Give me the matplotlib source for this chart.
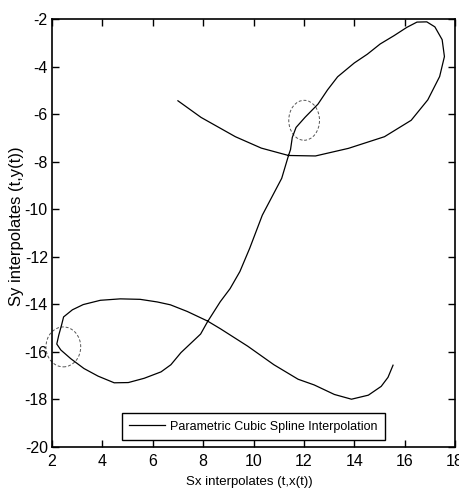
import matplotlib
matplotlib.use("Agg")
import matplotlib.pyplot as plt
from matplotlib.patches import Ellipse

# Traced parametric curve (x(t), y(t))
curve_x = [7.00, 7.92, 9.28, 10.31, 11.39, 12.46, 13.77, 15.20, 16.26, 16.92,
           17.39, 17.58, 17.49, 17.20, 16.88, 16.49, 16.09, 15.58, 15.03, 14.52,
           14.00, 13.34, 12.94, 12.56, 12.05, 11.69, 11.54, 11.47, 11.39, 11.12,
           10.35, 9.85, 9.46, 9.07, 8.68, 8.17, 7.90, 7.12, 6.72, 6.33,
           5.66, 5.03, 4.47, 3.83, 3.27, 2.75, 2.35, 2.19, 2.27, 2.38,
           2.46, 2.81, 3.24, 3.92, 4.71, 5.50, 6.18, 6.70, 7.37, 8.17,
           8.69, 9.77, 10.81, 11.77, 12.41, 13.21, 13.89, 14.56, 15.07, 15.34,
           15.54]
curve_y = [-5.44, -6.14, -6.95, -7.43, -7.74, -7.76, -7.44, -6.95, -6.26, -5.40,
           -4.42, -3.58, -2.87, -2.33, -2.12, -2.13, -2.35, -2.70, -3.05, -3.48,
           -3.85, -4.43, -4.98, -5.58, -6.13, -6.56, -6.98, -7.49, -7.74, -8.70,
           -10.25, -11.64, -12.62, -13.34, -13.89, -14.74, -15.25, -16.03, -16.54, -16.84,
           -17.11, -17.29, -17.30, -17.02, -16.70, -16.29, -15.92, -15.67, -15.29, -14.87,
           -14.53, -14.23, -14.01, -13.83, -13.77, -13.79, -13.90, -14.02, -14.30, -14.70,
           -15.03, -15.76, -16.54, -17.15, -17.39, -17.79, -17.99, -17.82, -17.45, -17.07,
           -16.56]

# Dashed marker circles (centre x, centre y, width, height)
circle_cx = [12.01, 2.45]
circle_cy = [-6.26, -15.79]
circle_w = [1.22, 1.38]
circle_h = [1.68, 1.68]

x_ticks = [2, 4, 6, 8, 10, 12, 14, 16, 18]
y_ticks = [-20, -18, -16, -14, -12, -10, -8, -6, -4, -2]
legend_label = "Parametric Cubic Spline Interpolation"
x_label = "Sx interpolates (t,x(t))"
y_label = "Sy interpolates (t,y(t))"

plt.rcParams['font.family'] = ['Liberation Sans', 'DejaVu Sans']

fig = plt.figure(figsize=(4.59, 4.95), dpi=100)
ax = fig.add_axes([52/459, 1-447/495, 403/459, 428/495])

ax.plot(curve_x, curve_y, color='black', linewidth=0.9, label=legend_label)
for cx, cy, w, h in zip(circle_cx, circle_cy, circle_w, circle_h):
    ax.add_patch(Ellipse((cx, cy), w, h, fill=False, edgecolor='#555555',
                         linewidth=0.7, linestyle=(0, (3, 2)), clip_on=False))

ax.set_xlim(2, 18)
ax.set_ylim(-20, -2)
ax.set_xticks(x_ticks)
ax.set_yticks(y_ticks)
ax.set_xticklabels([str(v) for v in x_ticks])
ax.set_yticklabels([str(v) for v in y_ticks])
ax.tick_params(direction='in', length=5, width=1.0, top=True, right=True,
               labelsize=11.5)
ax.tick_params(axis='y', pad=3)
ax.tick_params(axis='x', pad=5)
for s in ax.spines.values():
    s.set_linewidth(1.2)
ax.set_xlabel(x_label, fontsize=9.5)
ax.set_ylabel(y_label, fontsize=12)
ax.xaxis.set_label_coords(0.49, -0.068)
ax.yaxis.set_label_coords(-0.07, 0.516)

leg = ax.legend(loc='lower center', bbox_to_anchor=(0.5, 0.016), borderaxespad=0,
                fancybox=False, edgecolor='black', fontsize=9, handlelength=2.9,
                handletextpad=0.4, framealpha=1, borderpad=0.6)
leg.get_frame().set_linewidth(1.0)

fig.savefig("out.png", dpi=100)
